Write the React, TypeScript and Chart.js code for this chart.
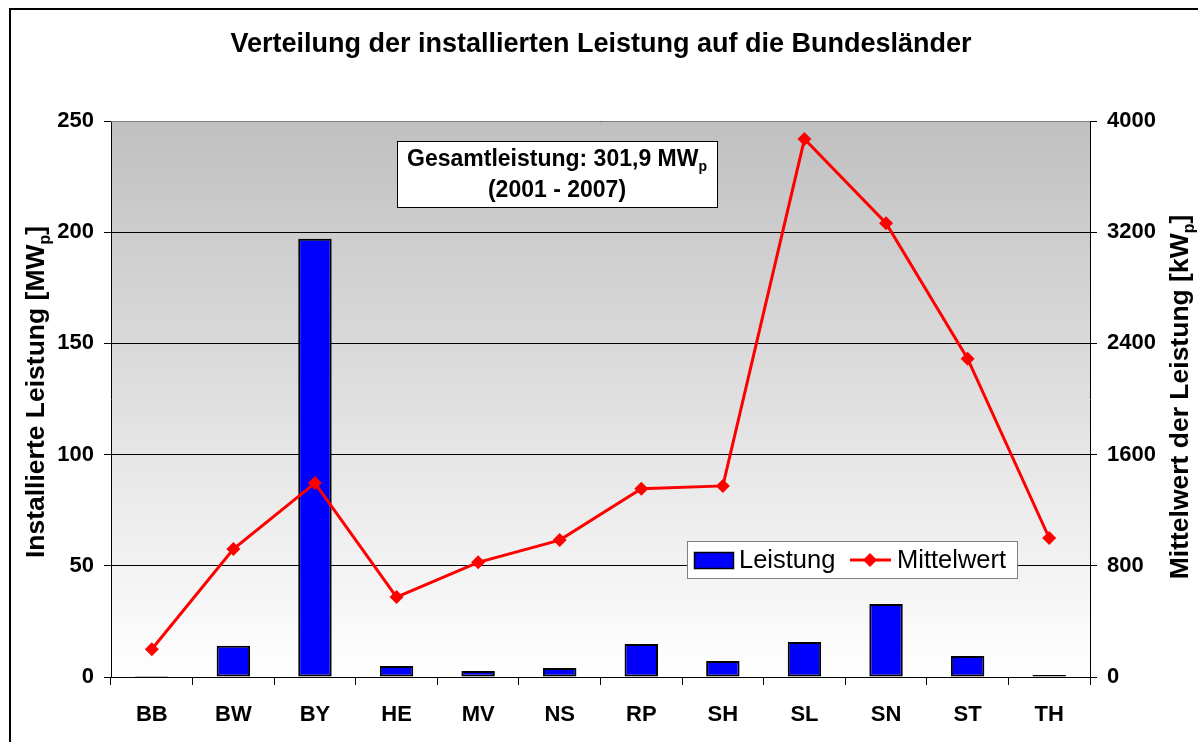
import React, { useEffect, useRef } from "react";
import { Chart, registerables } from "chart.js";
Chart.register(...registerables);

const categories = ["BB", "BW", "BY", "HE", "MV", "NS", "RP", "SH", "SL", "SN", "ST", "TH"];
const leistung = [0.5, 14, 197, 5, 2.7, 4, 14.8, 7.2, 15.7, 32.8, 9.4, 0.9];
const mittelwert = [200, 920, 1395, 575, 825, 985, 1355, 1375, 3870, 3265, 2290, 1000];
const leftMax = 250;
const leftStep = 50;
const rightMax = 4000;
const rightStep = 800;

const FONT = "'Liberation Sans', Arial, Helvetica, sans-serif";

type Seg = { t: string; sub?: boolean };

function drawSegs(ctx: CanvasRenderingContext2D, segs: Seg[], cx: number, cy: number, size: number, weight: string) {
  const subSize = Math.round(size * 0.62);
  let total = 0;
  const widths: number[] = [];
  for (const s of segs) {
    ctx.font = `${weight} ${s.sub ? subSize : size}px ${FONT}`;
    const w = ctx.measureText(s.t).width;
    widths.push(w);
    total += w;
  }
  let x = cx - total / 2;
  ctx.textAlign = "left";
  ctx.textBaseline = "middle";
  segs.forEach((s, i) => {
    ctx.font = `${weight} ${s.sub ? subSize : size}px ${FONT}`;
    ctx.fillText(s.t, x, s.sub ? cy + size * 0.32 : cy);
    x += widths[i];
  });
}

const decoPlugin = {
  id: "deco",
  beforeDraw(chart: any) {
    const ctx: CanvasRenderingContext2D = chart.ctx;
    const a = chart.chartArea;
    ctx.save();
    ctx.fillStyle = "#ffffff";
    ctx.fillRect(0, 0, chart.width, chart.height);
    const g = ctx.createLinearGradient(0, a.top, 0, a.bottom);
    g.addColorStop(0, "#c0c0c0");
    g.addColorStop(1, "#ffffff");
    ctx.fillStyle = g;
    ctx.fillRect(a.left, a.top, a.right - a.left, a.bottom - a.top);
    ctx.restore();
  },
  afterDraw(chart: any) {
    const ctx: CanvasRenderingContext2D = chart.ctx;
    const a = chart.chartArea;
    ctx.save();
    // top border of plot area
    ctx.strokeStyle = "#808080";
    ctx.lineWidth = 1;
    ctx.beginPath();
    ctx.moveTo(a.left, a.top + 0.5);
    ctx.lineTo(a.right, a.top + 0.5);
    ctx.stroke();

    // outer frame
    ctx.strokeStyle = "#000000";
    ctx.lineWidth = 2;
    ctx.beginPath();
    ctx.moveTo(10, chart.height + 2);
    ctx.lineTo(10, 9);
    ctx.lineTo(chart.width + 2, 9);
    ctx.stroke();

    ctx.fillStyle = "#000000";
    // title
    drawSegs(ctx, [{ t: "Verteilung der installierten Leistung auf die Bundesländer" }], 601, 45, 27, "bold");

    // left axis title
    ctx.save();
    ctx.translate(37, 392);
    ctx.rotate(-Math.PI / 2);
    drawSegs(ctx, [{ t: "Installierte Leistung [MW" }, { t: "p", sub: true }, { t: "]" }], 0, 0, 26.5, "bold");
    ctx.restore();

    // right axis title
    ctx.save();
    ctx.translate(1181, 397);
    ctx.rotate(-Math.PI / 2);
    drawSegs(ctx, [{ t: "Mittelwert der Leistung [kW" }, { t: "p", sub: true }, { t: "]" }], 0, 0, 26.5, "bold");
    ctx.restore();

    // annotation box
    ctx.fillStyle = "#ffffff";
    ctx.fillRect(397.5, 141.5, 320, 66);
    ctx.strokeStyle = "#000000";
    ctx.lineWidth = 1;
    ctx.strokeRect(397.5, 141.5, 320, 66);
    ctx.fillStyle = "#000000";
    drawSegs(ctx, [{ t: "Gesamtleistung: 301,9 MW" }, { t: "p", sub: true }], 557, 160, 23, "bold");
    drawSegs(ctx, [{ t: "(2001 - 2007)" }], 557, 191, 23, "bold");

    // legend
    ctx.fillStyle = "#ffffff";
    ctx.fillRect(687.5, 541.5, 330, 37);
    ctx.strokeStyle = "#808080";
    ctx.strokeRect(687.5, 541.5, 330, 37);
    ctx.fillStyle = "#0000ff";
    ctx.fillRect(694.5, 552.5, 39, 16);
    ctx.strokeStyle = "#000000";
    ctx.lineWidth = 1.5;
    ctx.strokeRect(694.5, 552.5, 39, 16);
    ctx.fillStyle = "#000000";
    ctx.font = `25.5px ${FONT}`;
    ctx.textAlign = "left";
    ctx.textBaseline = "middle";
    ctx.fillText("Leistung", 739, 561);
    ctx.strokeStyle = "#ff0000";
    ctx.lineWidth = 3;
    ctx.beginPath();
    ctx.moveTo(850, 560);
    ctx.lineTo(891, 560);
    ctx.stroke();
    ctx.fillStyle = "#ff0000";
    ctx.beginPath();
    ctx.moveTo(870, 553);
    ctx.lineTo(877, 560);
    ctx.lineTo(870, 567);
    ctx.lineTo(863, 560);
    ctx.closePath();
    ctx.fill();
    ctx.fillStyle = "#000000";
    ctx.fillText("Mittelwert", 897, 561);
    ctx.restore();
  },
};

export default function App() {
  const ref = useRef<HTMLCanvasElement | null>(null);
  useEffect(() => {
    if (!ref.current) return;
    const tickFont = { family: FONT, size: 22, weight: "bold" as const };
    const fmt = (v: any) => String(v);
    const chart = new Chart(ref.current, {
      type: "bar",
      data: {
        labels: categories,
        datasets: [
          {
            type: "line" as const,
            label: "Mittelwert",
            data: mittelwert,
            yAxisID: "y1",
            borderColor: "#ff0000",
            backgroundColor: "#ff0000",
            borderWidth: 3,
            pointStyle: "rectRot",
            pointRadius: 7,
            pointBackgroundColor: "#ff0000",
            pointBorderColor: "#ff0000",
            pointBorderWidth: 0,
            tension: 0,
            order: 0,
          },
          {
            type: "bar" as const,
            label: "Leistung",
            data: leistung,
            yAxisID: "y",
            backgroundColor: "#0000ff",
            borderColor: "#000000",
            borderWidth: 2,
            borderSkipped: false,
            categoryPercentage: 1,
            barPercentage: 0.41,
            order: 1,
          },
        ],
      },
      options: {
        responsive: false,
        animation: false,
        devicePixelRatio: 1,
        layout: { padding: { top: 121, left: 0, right: 0, bottom: 0 } },
        plugins: {
          legend: { display: false },
          title: { display: false },
          tooltip: { enabled: false },
        },
        scales: {
          x: {
            offset: true,
            grid: {
              offset: true,
              drawOnChartArea: false,
              color: "#000000",
              tickLength: 8,
            },
            border: { color: "#000000", width: 1 },
            ticks: { color: "#000000", font: tickFont, padding: 17, maxRotation: 0 },
            afterFit: (s: any) => {
              s.height = 65;
            },
          },
          y: {
            position: "left",
            min: 0,
            max: leftMax,
            ticks: { stepSize: leftStep, color: "#000000", font: tickFont, padding: 10, callback: fmt },
            grid: { color: "#000000", tickLength: 7, lineWidth: 1 },
            border: { color: "#000000", width: 1 },
            afterFit: (s: any) => {
              s.width = 111;
            },
          },
          y1: {
            position: "right",
            min: 0,
            max: rightMax,
            ticks: { stepSize: rightStep, color: "#000000", font: tickFont, padding: 10, callback: fmt },
            grid: { drawOnChartArea: false, color: "#000000", tickLength: 7 },
            border: { color: "#000000", width: 1 },
            afterFit: (s: any) => {
              s.width = 108;
            },
          },
        },
      },
      plugins: [decoPlugin],
    });
    return () => chart.destroy();
  }, []);
  return (
    <div style={{ position: "fixed", left: 0, top: 0, width: 1198, height: 742 }}>
      <canvas ref={ref} width={1198} height={742} style={{ display: "block" }} />
    </div>
  );
}
